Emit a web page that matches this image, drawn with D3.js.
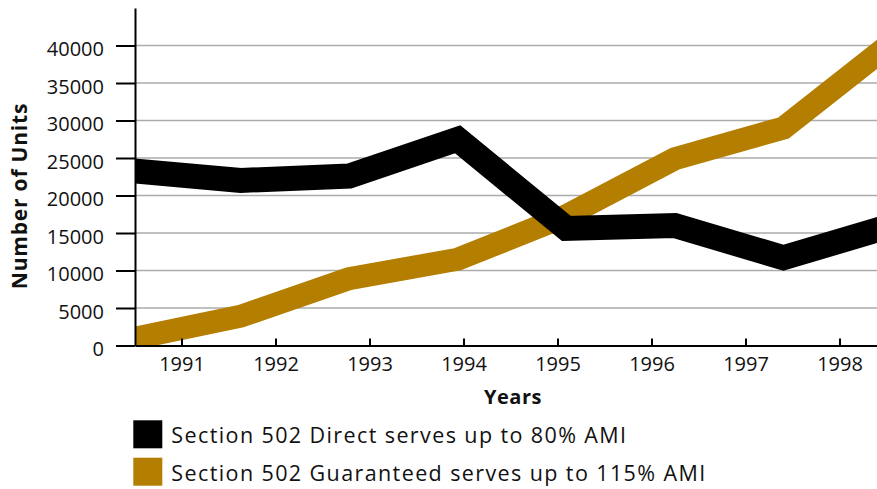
<!DOCTYPE html>
<html>
<head>
<meta charset="utf-8">
<script src="https://cdn.jsdelivr.net/npm/d3@7"></script>
<style>
  html, body { margin: 0; padding: 0; background: #fff; }
  svg { display: block; font-family: "Open Sans", "Noto Sans", sans-serif; }
</style>
</head>
<body>
<svg id="chart" width="877" height="489"></svg>
<script>
// Section 502 housing units by fiscal year
const years = [1991, 1992, 1993, 1994, 1995, 1996, 1997, 1998];
const directUnits = [23300, 22000, 22600, 27500, 15600, 16000, 11700, 16000];
const guaranteedUnits = [900, 3900, 8900, 11500, 17300, 24900, 29000, 40400];
const yTicks = [0, 5000, 10000, 15000, 20000, 25000, 30000, 35000, 40000];
const seriesNames = [
  "Section 502 Direct serves up to 80% AMI",
  "Section 502 Guaranteed serves up to 115% AMI"
];
const seriesColors = ["#000000", "#b47e00"];

const W = 877;
const plotLeft = 135, plotBottom = 345.5, plotTop = 8;

const svg = d3.select("#chart");

// scales: one for the plotted points, one for the labelled year slots
const xPoint = d3.scalePoint().domain(years).range([132, 892]);
const xBand = d3.scaleBand().domain(years).range([plotLeft, 887]).padding(0);
const y = d3.scaleLinear().domain([0, 45000]).range([plotBottom, plotTop]);

// horizontal gridlines
svg.append("g")
  .selectAll("line")
  .data(yTicks.filter(d => d > 0))
  .join("line")
  .attr("x1", plotLeft).attr("x2", W)
  .attr("y1", d => y(d)).attr("y2", d => y(d))
  .attr("stroke", "#ababab")
  .attr("stroke-width", 1.6);

// clip lines to the plot area
svg.append("clipPath").attr("id", "plot-clip")
  .append("rect")
  .attr("x", plotLeft).attr("y", 0)
  .attr("width", W - plotLeft).attr("height", plotBottom);

const line = d3.line()
  .x((d, i) => xPoint(years[i]))
  .y(d => y(d));

const lines = svg.append("g").attr("clip-path", "url(#plot-clip)");
lines.append("path")
  .datum(guaranteedUnits)
  .attr("d", line)
  .attr("fill", "none")
  .attr("stroke", seriesColors[1])
  .attr("stroke-width", 23)
  .attr("stroke-linejoin", "miter");
lines.append("path")
  .datum(directUnits)
  .attr("d", line)
  .attr("fill", "none")
  .attr("stroke", seriesColors[0])
  .attr("stroke-width", 25)
  .attr("stroke-linejoin", "miter");

// y axis
const yAxis = svg.append("g")
  .attr("transform", `translate(${plotLeft},0)`)
  .call(d3.axisLeft(y).tickValues(yTicks).tickFormat(d3.format("d"))
    .tickSize(19).tickSizeOuter(0).tickPadding(12));
yAxis.select(".domain").attr("stroke", "#000").attr("stroke-width", 2);
yAxis.selectAll(".tick line").attr("stroke", "#000").attr("stroke-width", 2);
yAxis.selectAll(".tick text")
  .attr("font-size", 20)
  .attr("fill", "#111")
  .attr("dy", "0.5em")
  .style("font-family", '"Open Sans", sans-serif');

// x axis
const xAxis = svg.append("g")
  .attr("transform", `translate(0,${plotBottom})`)
  .call(d3.axisBottom(xBand).tickSize(-7).tickSizeOuter(0));
xAxis.select(".domain").attr("stroke", "#000").attr("stroke-width", 2);
xAxis.selectAll(".tick line").attr("stroke", "#000").attr("stroke-width", 2);
xAxis.selectAll(".tick text")
  .attr("y", 25)
  .attr("dy", 0)
  .attr("font-size", 20)
  .attr("fill", "#111")
  .style("font-family", '"Open Sans", sans-serif');

// axis titles
svg.append("text")
  .attr("x", 513).attr("y", 403.5)
  .attr("text-anchor", "middle")
  .attr("font-size", 20)
  .attr("font-weight", "bold")
  .attr("letter-spacing", "0.5px")
  .attr("fill", "#111")
  .text("Years");

svg.append("text")
  .attr("transform", "translate(26.5,196) rotate(-90)")
  .attr("text-anchor", "middle")
  .attr("font-size", 21)
  .attr("font-weight", "bold")
  .attr("letter-spacing", "0.8px")
  .attr("fill", "#111")
  .text("Number of Units");

// legend
const legend = svg.append("g")
  .selectAll("g")
  .data(seriesNames)
  .join("g")
  .attr("transform", (d, i) => `translate(133.3,${420.3 + i * 37.4})`);
legend.append("rect")
  .attr("width", 29).attr("height", 28)
  .attr("fill", (d, i) => seriesColors[i]);
legend.append("text")
  .attr("x", 38).attr("y", 23.2)
  .attr("font-size", 21.5)
  .attr("letter-spacing", "1.4px")
  .attr("fill", "#111")
  .text(d => d);
</script>
</body>
</html>
